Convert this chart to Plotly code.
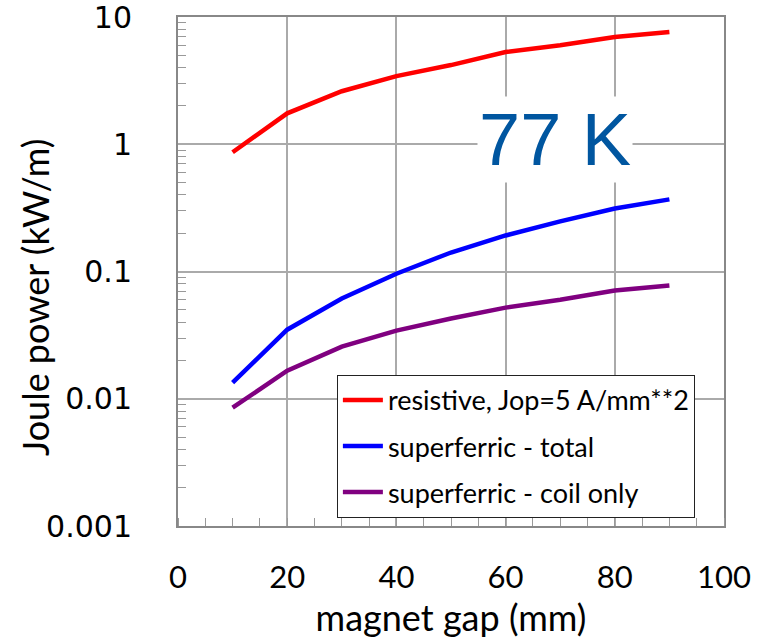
import plotly.graph_objects as go

gap_mm = [10, 20, 30, 40, 50, 60, 70, 80, 90]
resistive = [0.865, 1.75, 2.61, 3.43, 4.19, 5.3, 6.0, 6.96, 7.62]
sf_total = [0.0134, 0.0349, 0.0613, 0.096, 0.141, 0.192, 0.248, 0.313, 0.369]
sf_coil = [0.0085, 0.0166, 0.0257, 0.0343, 0.0427, 0.052, 0.060, 0.0708, 0.0776]

names = ["resistive, Jop=5 A/mm**2", "superferric - total", "superferric - coil only"]
colors = ["#FF0000", "#0000FF", "#800080"]

y_tickvals = [0.001, 0.01, 0.1, 1, 10]
y_ticktext = ["0.001", "0.01", "0.1", "1", "10"]
y_minor = [m * 10.0 ** e for e in range(-3, 1) for m in range(2, 10)]
x_tickvals = [0, 20, 40, 60, 80, 100]

fig = go.Figure()
for i, (nm, ys, c) in enumerate(zip(names, [resistive, sf_total, sf_coil], colors)):
    fig.add_trace(go.Scatter(x=gap_mm, y=ys, mode="lines", name=nm,
                             legendgroup=str(i),
                             line=dict(color=c, width=4.5)))
# empty trace to carry the overlay axis used for the minor log ticks
fig.add_trace(go.Scatter(x=[], y=[], yaxis="y2", showlegend=False, hoverinfo="skip"))

fig.update_layout(
    width=769, height=641,
    margin=dict(l=178, r=45, t=17, b=115, autoexpand=False),
    plot_bgcolor="white", paper_bgcolor="white",
    showlegend=True,
    legend=dict(x=0.291, y=0.297, xanchor="left", yanchor="top",
                bgcolor="white", bordercolor="#222", borderwidth=1,
                font=dict(family="Lato", size=27, color="black"),
                tracegroupgap=8, itemwidth=40),
    annotations=[
        dict(text="77 K", x=0.69, y=0.76, xref="paper", yref="paper",
             xanchor="center", yanchor="middle",
             showarrow=False, bgcolor="white",
             font=dict(family="Liberation Sans", size=74, color="#0056A0")),
        dict(text="Joule power (kW/m)", x=-0.262, y=0.45, xref="paper", yref="paper",
             xanchor="center", yanchor="middle", textangle=-90, showarrow=False,
             font=dict(family="Lato", size=36, color="black")),
    ],
    yaxis2=dict(type="log", range=[-3, 1], overlaying="y", side="left",
                tickvals=y_minor, ticks="inside", ticklen=8, tickcolor="#999",
                showticklabels=False, showgrid=False, showline=False, zeroline=False,
                automargin=False),
)

fig.update_xaxes(range=[0, 100], tickvals=x_tickvals, automargin=False,
                 showline=True, linecolor="#888", linewidth=2, mirror=True,
                 showgrid=True, gridcolor="#AAAAAA", gridwidth=1.5,
                 ticks="", zeroline=False, ticklabelstandoff=23, ticklabeloverflow="allow",
                 minor=dict(dtick=5, ticks="inside", ticklen=8, tickcolor="#999", showgrid=False),
                 tickfont=dict(family="Lato", size=31, color="black"),
                 title=dict(text="magnet gap (mm)", font=dict(family="Lato", size=36, color="black"),
                            standoff=11))

fig.layout.yaxis.update(type="log", range=[-3, 1], tickvals=y_tickvals, ticktext=y_ticktext,
                        automargin=False,
                        showline=True, linecolor="#888", linewidth=2, mirror=True,
                        showgrid=True, gridcolor="#AAAAAA", gridwidth=1.5,
                        ticks="", zeroline=False, ticklabelstandoff=38, ticklabeloverflow="allow",
                        tickfont=dict(family="DejaVu Sans", size=30, color="black"))

fig.write_html("out.html", config={"displayModeBar": False},
               post_script="document.body.style.margin='0px';document.body.style.overflow='hidden';")
